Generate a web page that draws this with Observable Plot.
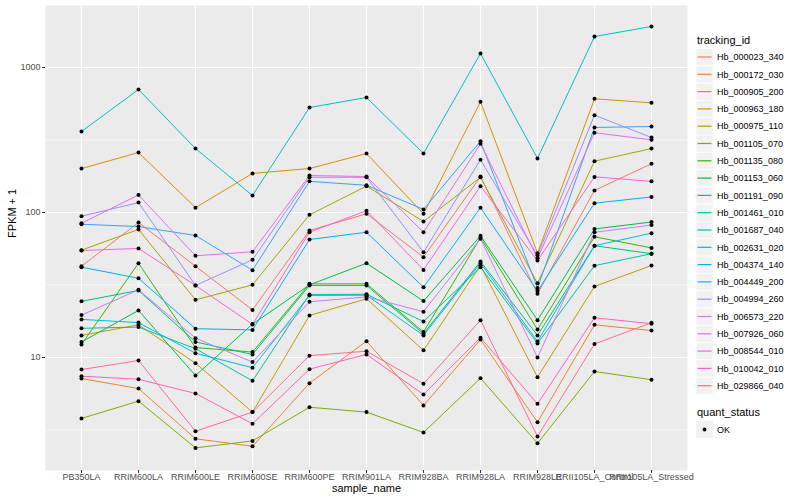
<!DOCTYPE html>
<html><head><meta charset="utf-8">
<script src="https://cdn.jsdelivr.net/npm/d3@7"></script>
<script src="https://cdn.jsdelivr.net/npm/@observablehq/plot@0.6"></script>
<style>
body{margin:0;background:#fff;font-family:"Liberation Sans",Arial,sans-serif;}
#wrap{position:relative;width:800px;height:500px;}
#legend{position:absolute;left:690px;top:0;}
#legend svg{display:block;}
</style></head><body><div id="wrap"><div id="chart"></div><div id="legend"></div></div>
<script>
const samples = ["PB350LA","RRIM600LA","RRIM600LE","RRIM600SE","RRIM600PE","RRIM901LA","RRIM928BA","RRIM928LA","RRIM928LE","RRII105LA_Control","RRII105LA_Stressed"];

const Hb_000023_340 = [42.6, 85.3, 42.6, 21.3, 75.1, 98, 49.2, 177, 27.5, 142, 217];
const Hb_000172_030 = [7.16, 6.11, 2.75, 2.44, 6.65, 12.95, 4.67, 13.3, 3.58, 16.8, 15.35];
const Hb_000905_200 = [201, 259, 108, 186, 201, 255, 98, 580, 52.4, 608, 571];
const Hb_000963_180 = [14.2, 16.8, 9.14, 4.2, 19.5, 25.4, 11.2, 43.1, 7.31, 30.9, 43.1];
const Hb_000975_110 = [55, 76.4, 25, 31.7, 96.4, 152, 86.7, 175, 32.5, 226, 276];
const Hb_001105_070 = [3.8, 5.0, 2.38, 2.66, 4.54, 4.2, 3.04, 7.2, 2.56, 8.01, 7.02];
const Hb_001135_080 = [12.3, 44.7, 11.7, 10.9, 32.2, 32.2, 15, 67, 15.6, 68, 57];
const Hb_001153_060 = [12.8, 21.1, 7.5, 17, 31.7, 44.7, 24.5, 69, 18.1, 77, 86];
const Hb_001191_090 = [24.4, 29.0, 12.8, 10.5, 31.4, 31.4, 14.6, 46, 14.2, 59, 52];
const Hb_001461_010 = [15.9, 16.2, 11.5, 6.9, 27.2, 27.3, 17.7, 42, 12.5, 43, 52];
const Hb_001687_040 = [362, 705, 276, 131, 530, 621, 255, 1250, 236, 1636, 1918];
const Hb_002631_020 = [18.3, 17.4, 10.7, 8.5, 26.8, 26.9, 14.2, 44.8, 12.9, 59, 72];
const Hb_004374_140 = [42, 35.2, 15.8, 15.5, 65.1, 73.1, 30.5, 108, 28.7, 116, 128];
const Hb_004449_200 = [83, 80, 69.4, 40, 164, 154, 105, 310, 30.2, 386, 392];
const Hb_004994_260 = [94.3, 117, 31.4, 47.2, 175, 175, 53.2, 231, 50.5, 469, 329];
const Hb_006573_220 = [19.6, 29.3, 13.6, 9.3, 24.2, 26.2, 20.7, 66, 10.0, 73, 82];
const Hb_007926_060 = [84.4, 132, 50.3, 53.6, 180, 177, 73.1, 298, 48.4, 355, 317];
const Hb_008544_010 = [54.7, 56.5, 31.4, 16.9, 73.1, 103, 40.2, 152, 46.7, 176, 164];
const Hb_010042_010 = [7.43, 7.08, 5.65, 3.49, 8.31, 10.5, 5.56, 13.7, 4.79, 18.8, 17.1];
const Hb_029866_040 = [8.26, 9.53, 3.10, 4.20, 10.3, 11.05, 6.59, 18.1, 2.85, 12.4, 17.35];

const ids = ["Hb_000023_340","Hb_000172_030","Hb_000905_200","Hb_000963_180","Hb_000975_110","Hb_001105_070","Hb_001135_080","Hb_001153_060","Hb_001191_090","Hb_001461_010","Hb_001687_040","Hb_002631_020","Hb_004374_140","Hb_004449_200","Hb_004994_260","Hb_006573_220","Hb_007926_060","Hb_008544_010","Hb_010042_010","Hb_029866_040"];
const seriesValues = [Hb_000023_340,Hb_000172_030,Hb_000905_200,Hb_000963_180,Hb_000975_110,Hb_001105_070,Hb_001135_080,Hb_001153_060,Hb_001191_090,Hb_001461_010,Hb_001687_040,Hb_002631_020,Hb_004374_140,Hb_004449_200,Hb_004994_260,Hb_006573_220,Hb_007926_060,Hb_008544_010,Hb_010042_010,Hb_029866_040];
const colors = ["#F8766D","#EA8331","#D89000","#C09B00","#A3A500","#7CAE00","#39B600","#00BB4E","#00BF7D","#00C1A3","#00BFC4","#00BAE0","#00B0F6","#35A2FF","#9590FF","#C77CFF","#E76BF3","#FA62DB","#FF62BC","#FF6C91"];
const yMajor = [10, 100, 1000];
const yMinor = [Math.sqrt(10), Math.sqrt(1000), Math.sqrt(100000)];

const data = [];
ids.forEach((id, i) => seriesValues[i].forEach((v, j) => data.push({id, sample: samples[j], value: v, status: "OK"})));

const chart = Plot.plot({
  width: 800, height: 500,
  marginLeft: 45, marginRight: 113, marginTop: 5, marginBottom: 30,
  x: {type: "point", domain: samples, padding: 0.6, label: null},
  y: {type: "log", domain: [1.662, 2677], label: null},
  color: {domain: ids, range: colors},
  style: {fontFamily: "Liberation Sans, Arial, sans-serif", fontSize: "9px", color: "#4D4D4D", background: "white", overflow: "visible"},
  marks: [
    Plot.frame({fill: "#EBEBEB", stroke: null}),
    Plot.ruleY(yMinor, {stroke: "white", strokeWidth: 0.6}),
    Plot.ruleY(yMajor, {stroke: "white", strokeWidth: 1.1}),
    Plot.ruleX(samples, {stroke: "white", strokeWidth: 1.1}),
    Plot.line(data, {x: "sample", y: "value", z: "id", stroke: "id", strokeWidth: 1}),
    Plot.dot(data, {x: "sample", y: "value", fill: "black", r: 2}),
    Plot.axisX({tickSize: 3, tickPadding: 0, stroke: "#333333", fill: "#4D4D4D", label: null}),
    Plot.axisY({ticks: yMajor, tickFormat: d => String(d), tickSize: 3, tickPadding: 2, stroke: "#333333", fill: "#4D4D4D", label: null}),
    Plot.text(["sample_name"], {frameAnchor: "bottom", dy: 21, text: d => d, fontSize: 11, fill: "black"}),
    Plot.text(["FPKM + 1"], {frameAnchor: "left", dx: -33, rotate: -90, text: d => d, fontSize: 11, fill: "black"})
  ]
});
document.getElementById("chart").appendChild(chart);

// legend
const lg = d3.select("#legend").append("svg").attr("width", 110).attr("height", 500)
  .style("font-family", "Liberation Sans, Arial, sans-serif");
lg.append("text").attr("x", 7).attr("y", 44).attr("font-size", 11).attr("fill", "black").text("tracking_id");
ids.forEach((id, i) => {
  const cy = 57 + i * 17.3;
  lg.append("rect").attr("x", 6).attr("y", cy - 8.4).attr("width", 17).attr("height", 17).attr("fill", "#F2F2F2").attr("stroke", "white").attr("stroke-width", 0.6);
  lg.append("line").attr("x1", 7.5).attr("x2", 21.5).attr("y1", cy).attr("y2", cy).attr("stroke", colors[i]).attr("stroke-width", 1.2);
  lg.append("text").attr("x", 27).attr("y", cy + 3.2).attr("font-size", 9).attr("fill", "black").text(id);
});
lg.append("text").attr("x", 7).attr("y", 416).attr("font-size", 11).attr("fill", "black").text("quant_status");
lg.append("rect").attr("x", 6).attr("y", 421).attr("width", 17).attr("height", 17).attr("fill", "#F2F2F2");
lg.append("circle").attr("cx", 14.5).attr("cy", 429.5).attr("r", 1.9).attr("fill", "black");
lg.append("text").attr("x", 27).attr("y", 432.7).attr("font-size", 9).attr("fill", "black").text("OK");
</script></body></html>
